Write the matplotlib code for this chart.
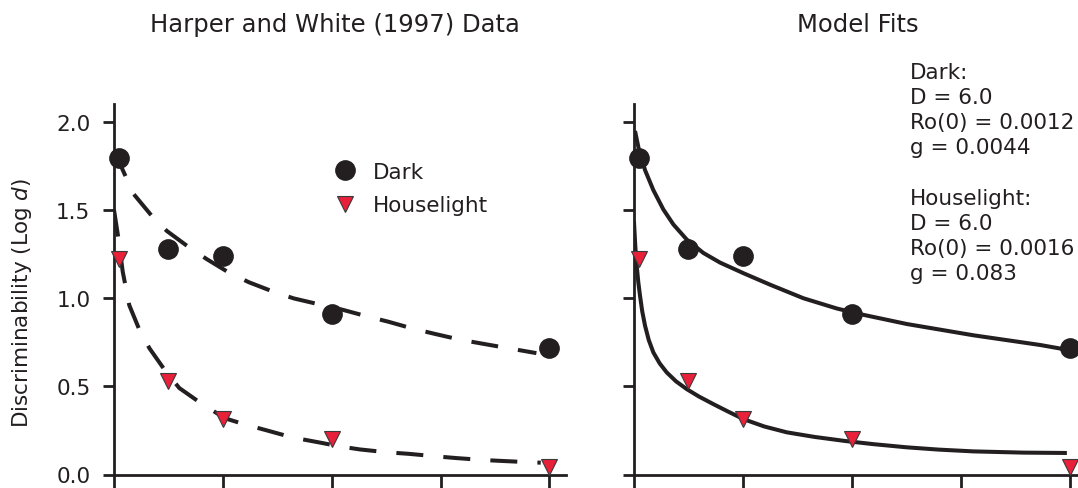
import matplotlib
matplotlib.use('Agg')
import matplotlib.pyplot as plt
from matplotlib.lines import Line2D

plt.rcParams['font.family'] = ['DejaVu Sans']
plt.rcParams['mathtext.fontset'] = 'dejavusans'

INK = '#231f20'
RED = '#e8203a'
FS = 15.5

# retention delay and log d
delay = [0.25, 2.5, 5, 10, 20]
dark_logd = [1.795, 1.277, 1.24, 0.91, 0.715]
house_logd = [1.22, 0.532, 0.317, 0.20, 0.045]

# dashed curves of the data panel
dark_dash_x = [0, 0.24, 0.9, 1.74, 2.43, 3.42, 4.27, 5.27, 6.19, 7.34, 8.26, 9.4,
               10.46, 11.6, 12.6, 13.75, 14.77, 15.9, 16.9, 18.1, 19.4]
dark_dash_y = [1.83, 1.77, 1.59, 1.465, 1.38, 1.29, 1.22, 1.145, 1.09, 1.035, 0.998, 0.965,
               0.935, 0.897, 0.866, 0.826, 0.796, 0.764, 0.742, 0.716, 0.688]
house_dash_x = [0, 0.2, 0.4, 0.7, 1.2, 1.63, 2.4, 3.0, 4.04, 5.11, 6.03, 6.96, 8.19,
                9.5, 10.33, 11.3, 12.53, 13.55, 14.77, 15.74, 16.97, 17.96, 19.19, 19.6]
house_dash_y = [1.50, 1.34, 1.15, 0.96, 0.81, 0.715, 0.58, 0.49, 0.40, 0.318, 0.283, 0.252, 0.21,
                0.18, 0.16, 0.142, 0.126, 0.117, 0.103, 0.093, 0.082, 0.076, 0.069, 0.067]

# model fit curves
dark_fit_x = [0.07, 0.25, 0.53, 0.91, 1.37, 1.83, 2.44, 3.2, 3.97, 5.04, 6.26, 7.79,
              9.32, 10.39, 12.53, 15.59, 18.65, 20.02]
dark_fit_y = [1.947, 1.84, 1.725, 1.612, 1.502, 1.417, 1.332, 1.256, 1.201, 1.141, 1.076, 0.999,
              0.941, 0.909, 0.853, 0.789, 0.734, 0.704]
house_fit_x = [0.02, 0.08, 0.15, 0.22, 0.3, 0.4, 0.53, 0.7, 0.91, 1.2, 1.52, 1.95, 2.44,
               3.0, 3.66, 4.3, 5.04, 6.0, 7.03, 8.3, 9.7, 11.0, 12.53, 14.0, 15.59, 17.88, 19.87]
house_fit_y = [1.437, 1.30, 1.18, 1.09, 1.012, 0.925, 0.843, 0.762, 0.692, 0.63, 0.579, 0.528,
               0.484, 0.442, 0.399, 0.359, 0.314, 0.272, 0.239, 0.213, 0.19, 0.172, 0.154,
               0.141, 0.131, 0.124, 0.122]

xticks = [0, 5, 10, 15, 20]
yticks = [0.0, 0.5, 1.0, 1.5, 2.0]

params_text = ("Dark:\nD = 6.0\nRo(0) = 0.0012\ng = 0.0044\n\n"
               "Houselight:\nD = 6.0\nRo(0) = 0.0016\ng = 0.083")

W, H = 1078, 489
fig = plt.figure(figsize=(W / 100, H / 100), dpi=100)
ax1 = fig.add_axes([114 / W, 13.5 / H, 452 / W, 370.5 / H])
ax2 = fig.add_axes([633.5 / W, 13.5 / H, 444.5 / W, 370.5 / H])

mk_dark = dict(ls='none', marker='o', ms=13.9, mfc=INK, mec=INK)
mk_house = dict(ls='none', marker='v', ms=11.3, mfc=RED, mec='#3a3a3a', mew=0.8)

ax1.plot(dark_dash_x, dark_dash_y, color=INK, lw=2.9, dashes=(6.7, 5), zorder=3)
ax1.plot(house_dash_x, house_dash_y, color=INK, lw=2.9, dashes=(6.7, 5), zorder=3)
ax2.plot(dark_fit_x, dark_fit_y, color=INK, lw=2.9, zorder=3, solid_capstyle='butt')
ax2.plot(house_fit_x, house_fit_y, color=INK, lw=2.9, zorder=3, solid_capstyle='butt')

for ax in (ax1, ax2):
    ax.plot(delay, dark_logd, zorder=4, clip_on=False, **mk_dark)
    ax.plot(delay, house_logd, zorder=4, clip_on=False, **mk_house)

ax1.set_xlim(0, 20.76)
ax2.set_xlim(0, 20.38)
for ax in (ax1, ax2):
    ax.set_ylim(0, 2.1)
    ax.set_xticks(xticks)
    ax.set_yticks(yticks)
    for s in ('top', 'right'):
        ax.spines[s].set_visible(False)
    for s in ('left', 'bottom'):
        ax.spines[s].set_linewidth(2)
        ax.spines[s].set_color(INK)
    ax.tick_params(direction='out', length=8, width=2, color=INK, labelcolor=INK,
                   labelsize=FS, pad=9)
    ax.tick_params(axis='x', length=12, labelbottom=False)
    ax.set_facecolor('none')

ax1.set_yticklabels([f"{v:.1f}" for v in yticks])
ax2.tick_params(axis='y', labelleft=False)

ax1.set_ylabel("Discriminability (Log $\\mathit{d}$)", fontsize=FS, color=INK)
ax1.yaxis.set_label_coords(-0.178, 0.466)

fig.text(334.5 / W, 1 - 32 / H, "Harper and White (1997) Data", ha='center', va='baseline',
         fontsize=17.5, color=INK)
fig.text(857.6 / W, 1 - 32 / H, "Model Fits", ha='center', va='baseline',
         fontsize=17.5, color=INK)

fig.text(910 / W, 1 - 63 / H, params_text, ha='left', va='top', fontsize=FS,
         color=INK, linespacing=1.32)

handles = [Line2D([], [], **mk_dark), Line2D([], [], **mk_house)]
ax1.legend(handles, ["Dark", "Houselight"], loc='center left',
           bbox_to_anchor=(334.25 / W, 1 - 189.5 / H), bbox_transform=fig.transFigure,
           frameon=False, borderpad=0, borderaxespad=0, handlelength=1.0,
           handletextpad=0.79, labelspacing=0.62, fontsize=FS, labelcolor=INK)

fig.savefig('out.png', dpi=100)
